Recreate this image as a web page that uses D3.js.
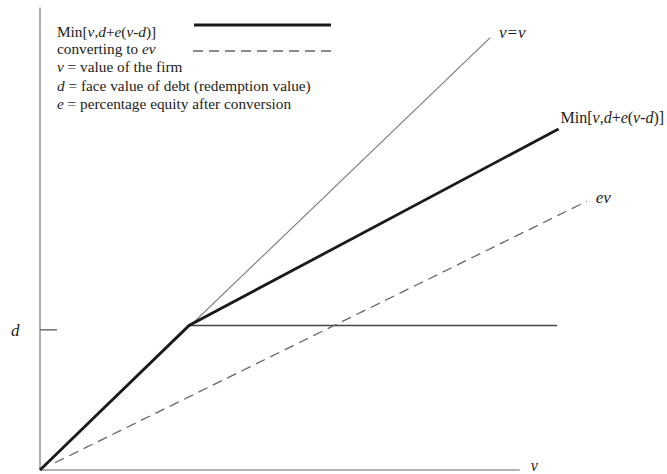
<!DOCTYPE html>
<html>
<head>
<meta charset="utf-8">
<script src="https://cdn.jsdelivr.net/npm/d3@7"></script>
<style>
  body { margin: 0; background: #fff; }
  svg { display: block; font-family: "Liberation Serif", "Times New Roman", serif; }
  text { fill: #222; }
</style>
</head>
<body>
<div id="chart"></div>
<script>
// values in units of d (face value of debt = 1)
const vvLine = [[0, 0], [3.02, 2.99]];
const minLine = [[0, 0], [1, 1], [3.48, 2.36]];
const debtLine = [[1, 1], [3.47, 1]];
const evLine = [[0.1, 0.05], [3.67, 1.86]];
const xAxisMax = 3.22;
const yAxisMax = 3.2;
const yTicks = [{ label: "d", value: 0.97 }];

// text segments: [text, italic]
const legendRows = [
  [["Min[", 0], ["v", 1], [",", 0], ["d", 1], ["+", 0], ["e", 1], ["(", 0], ["v", 1], ["-", 0], ["d", 1], [")]", 0]],
  [["converting to ", 0], ["ev", 1]],
  [["v", 1], [" = value of the firm", 0]],
  [["d", 1], [" = face value of debt (redemption value)", 0]],
  [["e", 1], [" = percentage equity after conversion", 0]]
];
const lineLabels = [
  { at: vvLine[1], dx: 9, dy: 0, size: 17, parts: [["v=v", 1]] },
  { at: minLine[2], dx: 2, dy: -6, size: 16, parts: legendRows[0] },
  { at: evLine[1], dx: 9, dy: 2, size: 17, parts: [["ev", 1]] }
];

const width = 667, height = 474;
const svg = d3.select("#chart").append("svg")
  .attr("width", width)
  .attr("height", height);

const x = d3.scaleLinear().domain([0, 1]).range([40, 189]);
const y = d3.scaleLinear().domain([0, 1]).range([470, 325.5]);
const line = d3.line().x(d => x(d[0])).y(d => y(d[1]));

// axes
svg.append("line")
  .attr("x1", x(0)).attr("y1", y(0))
  .attr("x2", x(0)).attr("y2", y(yAxisMax))
  .attr("stroke", "#999").attr("stroke-width", 1.6);
svg.append("line")
  .attr("x1", x(0)).attr("y1", y(0))
  .attr("x2", x(xAxisMax)).attr("y2", y(0))
  .attr("stroke", "#999").attr("stroke-width", 1.6);

svg.append("text")
  .attr("x", x(xAxisMax) + 11).attr("y", y(0) + 1)
  .attr("font-style", "italic").attr("font-size", 16)
  .text("v");

yTicks.forEach(t => {
  svg.append("line")
    .attr("x1", x(0)).attr("x2", x(0) + 17)
    .attr("y1", y(t.value)).attr("y2", y(t.value))
    .attr("stroke", "#555").attr("stroke-width", 1.3);
  svg.append("text")
    .attr("x", 11).attr("y", y(t.value) + 6)
    .attr("font-style", "italic").attr("font-size", 17)
    .text(t.label);
});

// lines
svg.append("path").datum(vvLine)
  .attr("d", line).attr("fill", "none")
  .attr("stroke", "#777").attr("stroke-width", 1.1);
svg.append("path").datum(debtLine)
  .attr("d", line).attr("fill", "none")
  .attr("stroke", "#444").attr("stroke-width", 1.3);
svg.append("path").datum(evLine)
  .attr("d", line).attr("fill", "none")
  .attr("stroke", "#666").attr("stroke-width", 1.3)
  .attr("stroke-dasharray", "10,6");
svg.append("path").datum(minLine)
  .attr("d", line).attr("fill", "none")
  .attr("stroke", "#1a1a1a").attr("stroke-width", 2.8)
  .attr("stroke-linejoin", "miter");

function addParts(sel, parts) {
  parts.forEach(p => {
    sel.append("tspan")
      .attr("font-style", p[1] ? "italic" : "normal")
      .text(p[0]);
  });
}

lineLabels.forEach(l => {
  const t = svg.append("text")
    .attr("x", x(l.at[0]) + l.dx)
    .attr("y", y(l.at[1]) + l.dy)
    .attr("font-size", l.size);
  addParts(t, l.parts);
});

// legend
const legend = svg.append("g").attr("transform", "translate(57,0)");
const rowY = [37, 54, 72, 91, 109];
legendRows.forEach((row, i) => {
  const t = legend.append("text")
    .attr("x", 0).attr("y", rowY[i])
    .attr("font-size", 15.3);
  addParts(t, row);
});
legend.append("line")
  .attr("x1", 137).attr("x2", 274).attr("y1", 25).attr("y2", 25)
  .attr("stroke", "#1a1a1a").attr("stroke-width", 2.8);
legend.append("line")
  .attr("x1", 136).attr("x2", 274).attr("y1", 51).attr("y2", 51)
  .attr("stroke", "#666").attr("stroke-width", 1.3)
  .attr("stroke-dasharray", "10,6");
</script>
</body>
</html>
